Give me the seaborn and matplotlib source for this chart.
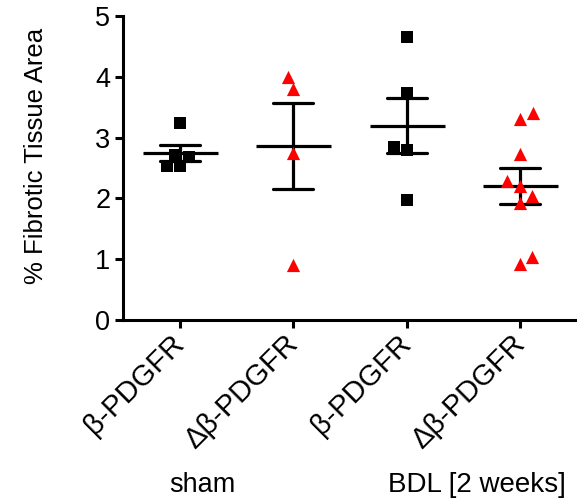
import matplotlib
matplotlib.use("Agg")
import matplotlib.pyplot as plt
import seaborn as sns
import pandas as pd

# values
sham_beta = [3.24, 2.68, 2.53, 2.53, 2.72]
sham_dbeta = [3.80, 4.00, 2.75, 0.90]
bdl_beta = [4.65, 3.73, 2.85, 2.79, 1.97]
bdl_dbeta = [3.30, 3.40, 2.73, 2.28, 2.20, 2.04, 1.92, 0.92, 1.04]

group_keys = ["sham_b", "sham_db", "bdl_b", "bdl_db"]
tick_labels = ["β-PDGFR", "Δβ-PDGFR", "β-PDGFR", "Δβ-PDGFR"]
condition_labels = ["sham", "BDL [2 weeks]"]
y_ticks = [0, 1, 2, 3, 4, 5]

rows = []
for key, vals in zip(group_keys, [sham_beta, sham_dbeta, bdl_beta, bdl_dbeta]):
    for v in vals:
        rows.append({"group": key, "area": v})
df = pd.DataFrame(rows)

sns.set_style("ticks", {"axes.edgecolor": "black", "text.color": "black",
                        "xtick.color": "black", "ytick.color": "black",
                        "axes.labelcolor": "black"})
plt.rcParams["font.family"] = ["Liberation Sans", "DejaVu Sans"]
plt.rcParams["axes.linewidth"] = 2.2

fig = plt.figure(figsize=(5.77, 5.03), dpi=100)
ax = fig.add_axes([0.213, 0.364, 0.787, 0.604])

beta_df = df[df["group"].isin(["sham_b", "bdl_b"])]
dbeta_df = df[df["group"].isin(["sham_db", "bdl_db"])]

sns.swarmplot(data=beta_df, x="group", y="area", order=group_keys,
              marker="s", color="black", size=9, linewidth=0, ax=ax)
sns.swarmplot(data=dbeta_df, x="group", y="area", order=group_keys,
              marker="^", color="red", size=9.5, linewidth=0, ax=ax)

# mean line and SEM bars
sns.pointplot(data=df, x="group", y="area", order=group_keys,
              errorbar="se", capsize=0.35, color="black",
              markers="_", markersize=54, markeredgewidth=2.3,
              linestyles="none", err_kws={"linewidth": 2.3}, ax=ax)

ax.set_ylim(0, 5)
ax.set_xlim(-0.5, 3.5)
ax.set_yticks(y_ticks)
ax.set_xticks(range(len(group_keys)))
ax.set_xticklabels(tick_labels, rotation=45, ha="right", va="center",
                   rotation_mode="anchor", fontsize=21)
ax.tick_params(axis="y", labelsize=19.5, width=2.2, length=6, pad=3)
ax.tick_params(axis="x", width=2.2, length=6, pad=8)
ax.set_xlabel("")
ax.set_ylabel("% Fibrotic Tissue Area", fontsize=18.5)
ax.yaxis.set_label_coords(-0.165, 0.54)
sns.despine(ax=ax)

fig.text(202 / 577, 1 - 485 / 503, condition_labels[0], fontsize=19.5,
         ha="center", va="center")
fig.text(477 / 577, 1 - 485 / 503, condition_labels[1], fontsize=20,
         ha="center", va="center")

fig.savefig("out.png", dpi=100)
